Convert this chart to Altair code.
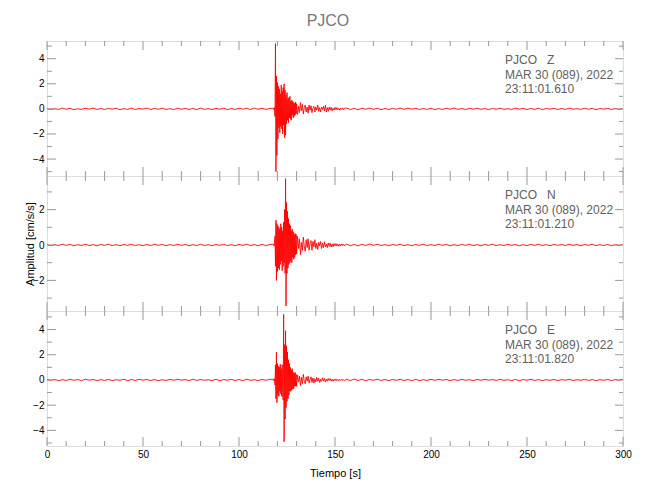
import altair as alt
import pandas as pd

FONT = "Liberation Sans, Arial, sans-serif"
TXT = "#606060"
FRAME = "#999999"

STATION = "PJCO"
DATE_LINE = "MAR 30 (089), 2022"
COMPONENTS = ["Z", "N", "E"]
STAMPS = ["23:11:01.610", "23:11:01.210", "23:11:01.820"]

# sampling of each stretch of the records (start, step) in seconds
QUIET_T0, QUIET_DT = 0.0, 2.0
BURST_T0, BURST_DT = 118.0, 0.25
CODA_T0, CODA_DT = 130.5, 0.5
TAIL_T0, TAIL_DT = 156.0, 2.0

Z_QUIET = [0.03, -0.05, 0.02, -0.04, 0.06, -0.03, 0.04, -0.06, 0.01, -0.04,
           0.05, -0.02, 0.06, -0.04, 0.03, -0.05, 0.04, -0.02, 0.05, -0.06,
           0.02, -0.04, 0.06, -0.05, 0.03, -0.02, 0.06, -0.05, 0.04, -0.03,
           0.05, -0.04, 0.02, -0.06, 0.05, -0.03, 0.04, -0.05, 0.03, -0.06,
           0.06, -0.04, 0.02, -0.05, 0.04, -0.03, 0.05, -0.06, 0.03, -0.04,
           0.05, -0.02, 0.04, -0.05, 0.06, -0.03, 0.05, -0.04, 0.03]
Z_BURST = [0.05, -0.08, 0.1, -0.6, 5.2, -5.0, 2.6, -3.7, 2.1, -2.4,
           1.8, -1.5, 1.6, -1.9, 1.2, -1.4, 1.9, -1.6, 1.4, -2.0,
           1.7, -1.3, 2.0, -2.3, 1.5, -2.1, 1.1, -1.2, 1.3, -0.9,
           0.8, -1.1, 0.9, -0.7, 1.0, -0.8, 0.6, -0.9, 0.7, -0.5,
           0.6, -0.7, 0.5, -0.6, 0.45, -0.5, 0.55, -0.4, 0.4]
Z_CODA = [-0.45, 0.2, -0.3, 0.5, -0.15, 0.35, -0.4, 0.1, 0.3, -0.25,
          0.15, -0.35, 0.3, -0.1, 0.25, -0.3, 0.05, 0.2, -0.25, 0.15,
          -0.1, 0.3, -0.2, 0.1, -0.25, 0.15, -0.05, 0.2, -0.15, 0.3,
          -0.25, 0.1, -0.2, 0.15, -0.1, 0.12, -0.15, 0.05, -0.1, 0.12,
          -0.06, 0.1, -0.08, 0.04, -0.1, 0.06, -0.05, 0.08, -0.06, 0.05]
Z_TAIL = [0.06, -0.05, 0.04, -0.06, 0.05, -0.03, 0.06, -0.04, 0.05, -0.06,
          0.03, -0.05, 0.04, -0.03, 0.06, -0.04, 0.05, -0.02, 0.04, -0.05,
          0.03, -0.04, 0.05, -0.06, 0.02, -0.04, 0.05, -0.03, 0.06, -0.04,
          0.03, -0.05, 0.04, -0.02, 0.05, -0.04, 0.03, -0.06, 0.04, -0.03,
          0.05, -0.04, 0.02, -0.05, 0.06, -0.03, 0.04, -0.05, 0.03, -0.04,
          0.05, -0.06, 0.03, -0.02, 0.04, -0.05, 0.03, -0.04, 0.06, -0.03,
          0.02, -0.04, 0.05, -0.03, 0.04, -0.06, 0.03, -0.02, 0.04, -0.05,
          0.03, -0.04, 0.02]

N_QUIET = [0.03, -0.04, 0.02, -0.03, 0.04, -0.02, 0.03, -0.04, 0.02, -0.03,
           0.04, -0.03, 0.02, -0.04, 0.03, -0.02, 0.04, -0.03, 0.02, -0.04,
           0.03, -0.02, 0.04, -0.03, 0.02, -0.04, 0.03, -0.03, 0.04, -0.02,
           0.03, -0.04, 0.02, -0.03, 0.04, -0.02, 0.03, -0.04, 0.02, -0.03,
           0.04, -0.03, 0.02, -0.04, 0.03, -0.02, 0.04, -0.03, 0.02, -0.04,
           0.03, -0.02, 0.04, -0.03, 0.02, -0.04, 0.03, -0.03, 0.02]
N_BURST = [0.05, -0.06, 0.08, 0.5, -1.2, 1.4, -2.0, 1.2, -1.5, 1.1,
           -1.3, 1.0, -1.4, 0.9, -1.1, 1.2, -0.9, 1.0, -1.45, 0.8,
           -1.2, 1.3, -1.0, 2.0, -1.6, 3.75, -3.45, 2.4, -1.6, 1.9,
           -1.3, 1.5, -1.1, 1.2, -1.0, 1.1, -0.9, 0.8, -1.0, 0.9,
           -0.7, 0.75, -0.8, 0.6, -0.7, 0.65, -0.55, 0.6, -0.5]
N_CODA = [0.5, -0.2, 0.35, -0.55, 0.15, -0.3, 0.45, -0.1, -0.35, 0.3,
          -0.15, 0.35, -0.3, 0.1, 0.25, -0.3, 0.2, -0.1, 0.3, -0.2,
          0.1, -0.25, 0.15, -0.05, 0.2, -0.2, 0.1, -0.15, 0.18, -0.1,
          0.05, -0.15, 0.12, -0.08, 0.1, -0.12, 0.06, -0.1, 0.08, -0.05,
          0.08, -0.06, 0.05, -0.07, 0.04, -0.05, 0.06, -0.04, 0.05, -0.04]
N_TAIL = [0.05, -0.04, 0.03, -0.05, 0.04, -0.03, 0.05, -0.02, 0.04, -0.03,
          0.02, -0.04, 0.03, -0.02, 0.04, -0.03, 0.02, -0.04, 0.03, -0.02,
          0.04, -0.03, 0.02, -0.03, 0.04, -0.02, 0.03, -0.04, 0.02, -0.03,
          0.03, -0.02, 0.04, -0.03, 0.02, -0.04, 0.03, -0.02, 0.04, -0.03,
          0.02, -0.03, 0.04, -0.02, 0.03, -0.04, 0.02, -0.03, 0.03, -0.02,
          0.04, -0.03, 0.02, -0.04, 0.03, -0.02, 0.03, -0.03, 0.04, -0.02,
          0.02, -0.04, 0.03, -0.02, 0.04, -0.03, 0.02, -0.03, 0.03, -0.04,
          0.02, -0.03, 0.03]

E_QUIET = [0.04, -0.03, 0.05, -0.06, 0.02, -0.04, 0.06, -0.03, 0.03, -0.05,
           0.06, -0.02, 0.04, -0.06, 0.03, -0.04, 0.05, -0.05, 0.02, -0.03,
           0.06, -0.05, 0.03, -0.04, 0.05, -0.02, 0.04, -0.05, 0.03, -0.06,
           0.02, -0.04, 0.05, -0.03, 0.05, -0.02, 0.03, -0.05, 0.06, -0.04,
           0.04, -0.03, 0.02, -0.05, 0.05, -0.06, 0.03, -0.02, 0.05, -0.04,
           0.03, -0.05, 0.06, -0.03, 0.02, -0.05, 0.04, -0.03, 0.05]
E_BURST = [0.05, -0.07, 0.1, -0.4, 1.2, -1.5, 2.2, -1.8, 1.3, -1.2,
           1.1, -1.3, 1.0, -0.9, 1.25, -1.1, 0.9, -1.3, 1.2, -1.0,
           -1.6, 5.2, -4.9, 2.8, -3.1, 3.9, -2.2, 2.7, -1.7, 2.2,
           -1.5, 1.6, -1.2, 1.3, -0.9, 1.0, -0.9, 0.8, -0.8, 0.9,
           -0.7, 0.6, -0.7, 0.55, -0.5, 0.6, -0.5, 0.45, -0.5]
E_CODA = [0.4, -0.15, 0.3, -0.45, 0.2, -0.3, 0.45, -0.1, -0.3, 0.25,
          -0.1, 0.3, -0.25, 0.05, 0.25, -0.2, 0.15, -0.25, 0.1, -0.15,
          0.2, -0.1, 0.15, -0.2, 0.05, -0.12, 0.18, -0.1, 0.12, -0.15,
          0.08, -0.1, 0.12, -0.06, 0.1, -0.08, 0.05, -0.1, 0.06, -0.05,
          0.08, -0.06, 0.04, -0.07, 0.05, -0.04, 0.06, -0.05, 0.04, -0.05]
E_TAIL = [0.06, -0.05, 0.07, -0.04, 0.05, -0.06, 0.04, -0.03, 0.06, -0.04,
          0.03, -0.05, 0.04, -0.03, 0.05, -0.04, 0.03, -0.05, 0.04, -0.05,
          0.02, -0.04, 0.05, -0.03, 0.05, -0.02, 0.04, -0.05, 0.03, -0.04,
          0.05, -0.03, 0.02, -0.05, 0.04, -0.03, 0.05, -0.02, 0.03, -0.04,
          0.05, -0.03, 0.02, -0.05, 0.04, -0.06, 0.03, -0.02, 0.05, -0.04,
          0.03, -0.05, 0.02, -0.03, 0.04, -0.05, 0.03, -0.02, 0.05, -0.04,
          0.02, -0.03, 0.05, -0.04, 0.03, -0.05, 0.02, -0.03, 0.04, -0.05,
          0.03, -0.02, 0.04]

Y_DOMAINS = [[-5.35, 5.41], [-3.73, 3.9], [-5.24, 5.47]]
Y_MAJOR = [[-4, -2, 0, 2, 4], [-2, 0, 2], [-4, -2, 0, 2, 4]]
Y_MINOR = [[-5, -3, -1, 1, 3, 5], [-3, -1, 1, 3], [-5, -3, -1, 1, 3, 5]]
X_MAJOR = [0, 50, 100, 150, 200, 250, 300]
X_MINOR = [v for v in range(0, 301, 10) if v % 50]

W, H = 576, 135


def trace_frame(parts):
    rows = []
    for (t0, dt), vals in parts:
        for i, v in enumerate(vals):
            rows.append({"t": t0 + dt * i, "v": v})
    return pd.DataFrame(rows)


def panel(k, quiet, burst, coda, tail):
    df = trace_frame([((QUIET_T0, QUIET_DT), quiet), ((BURST_T0, BURST_DT), burst),
                      ((CODA_T0, CODA_DT), coda), ((TAIL_T0, TAIL_DT), tail)])
    xscale = alt.Scale(domain=[0, 300], nice=False, zero=False)
    yscale = alt.Scale(domain=Y_DOMAINS[k], nice=False, zero=False)
    if k == 2:
        xaxis = alt.Axis(values=X_MAJOR, ticks=False, domain=False, grid=False,
                         labelPadding=3, labelFlush=False, title="Tiempo [s]",
                         titlePadding=8, format="d", titleFontWeight=400)
    else:
        xaxis = None
    yaxis = alt.Axis(values=Y_MAJOR[k], ticks=False, domain=False, grid=False,
                     labelPadding=3, format="d",
                     title="Amplitud [cm/s/s]" if k == 1 else None,
                     titlePadding=-3, titleFontWeight=400)

    def X(f):
        return alt.X(f, scale=xscale, axis=xaxis)

    def Y(f):
        return alt.Y(f, scale=yscale, axis=yaxis)

    wave = alt.Chart(df).mark_line(color="#ff0000", strokeWidth=0.9, clip=True).encode(
        x=X("t:Q"), y=Y("v:Q"))
    layers = [wave]
    tick = dict(color=FRAME, strokeWidth=1)
    for vals, ln in ((Y_MAJOR[k], 9), (Y_MINOR[k], 5)):
        d = pd.DataFrame({"yt": vals})
        layers.append(alt.Chart(d).mark_rule(**tick).encode(
            y=Y("yt:Q"), x=alt.value(0), x2=alt.value(ln)))
        layers.append(alt.Chart(d).mark_rule(**tick).encode(
            y=Y("yt:Q"), x=alt.value(W), x2=alt.value(W - ln + 1)))
    for vals, ln in ((X_MAJOR, 9), (X_MINOR, 5)):
        d = pd.DataFrame({"xt": vals})
        layers.append(alt.Chart(d).mark_rule(**tick).encode(
            x=X("xt:Q"), y=alt.value(0), y2=alt.value(ln)))
        layers.append(alt.Chart(d).mark_rule(**tick).encode(
            x=X("xt:Q"), y=alt.value(H), y2=alt.value(H - ln)))
    label = pd.DataFrame({"txt": [f"{STATION}\u00a0\u00a0\u00a0{COMPONENTS[k]}\n{DATE_LINE}\n{STAMPS[k]}"]})
    layers.append(alt.Chart(label).mark_text(
        align="left", baseline="top", lineBreak="\n", lineHeight=14.7,
        fontSize=12, font=FONT, color=TXT).encode(
        x=alt.value(458), y=alt.value(14), text="txt:N"))
    return alt.layer(*layers).properties(width=W, height=H)


panels = [
    panel(0, Z_QUIET, Z_BURST, Z_CODA, Z_TAIL),
    panel(1, N_QUIET, N_BURST, N_CODA, N_TAIL),
    panel(2, E_QUIET, E_BURST, E_CODA, E_TAIL),
]

chart = alt.vconcat(*panels, spacing=0, bounds="flush").resolve_scale(
    x="independent", y="independent"
).properties(
    title=alt.TitleParams(text=STATION, fontSize=16, font=FONT, color="#777777",
                          fontWeight="normal", anchor="middle", offset=11),
    padding={"left": 16, "top": 5, "right": 5, "bottom": 5},
).configure_view(stroke=FRAME, strokeWidth=1).configure_axis(
    labelFont=FONT, titleFont=FONT, labelColor=TXT, titleColor=TXT,
    labelFontSize=12, titleFontSize=12, titleFontWeight=400
).configure(background="white")

chart.save("out.html", embed_options={"renderer": "svg", "actions": False})
